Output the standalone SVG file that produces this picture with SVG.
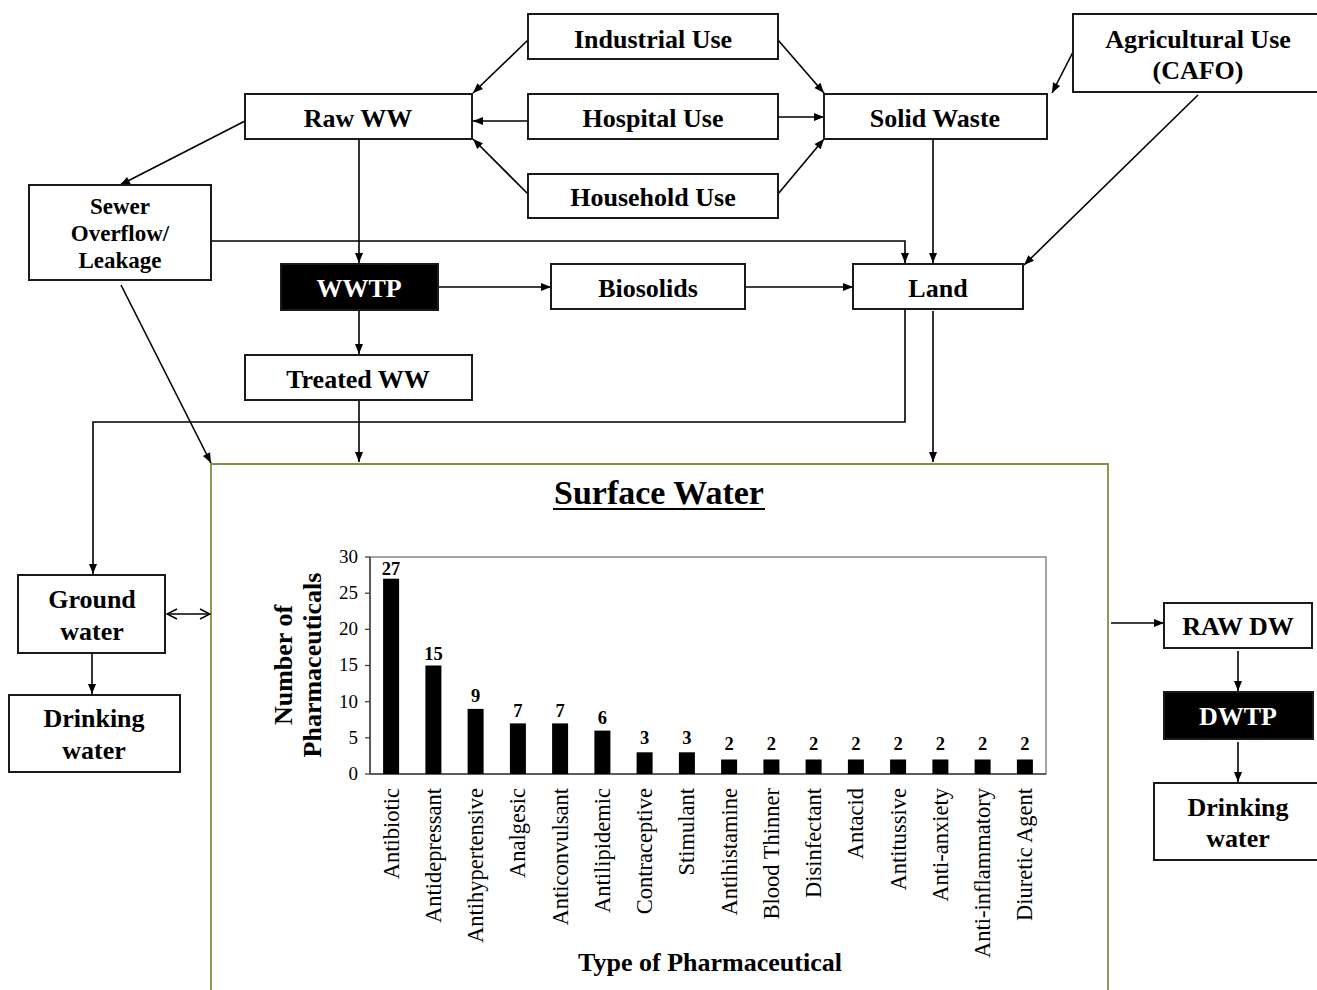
<svg xmlns="http://www.w3.org/2000/svg" width="1317" height="990" viewBox="0 0 1317 990">
<style>
.box{fill:#fff;stroke:#1a1a1a;stroke-width:2}
.dark{fill:#000;stroke:#1a1a1a;stroke-width:2}
.t{font-family:"Liberation Serif","Times New Roman",serif;font-weight:bold;font-size:26px;text-anchor:middle;fill:#000}
.tw{font-family:"Liberation Serif","Times New Roman",serif;font-weight:bold;font-size:26px;text-anchor:middle;fill:#fff}
.ts{font-family:"Liberation Serif","Times New Roman",serif;font-weight:bold;font-size:23px;text-anchor:middle;fill:#000}
.c{fill:none;stroke:#000;stroke-width:1.6}
.arr{marker-end:url(#ah)}
.tick{font-family:"Liberation Serif","Times New Roman",serif;font-size:19px;text-anchor:end;fill:#000}
.val{font-family:"Liberation Serif","Times New Roman",serif;font-weight:bold;font-size:18.5px;text-anchor:middle;fill:#000}
.xl{font-family:"Liberation Serif","Times New Roman",serif;font-size:22.5px;text-anchor:end;fill:#000}
.ttl{font-family:"Liberation Serif","Times New Roman",serif;font-weight:bold;font-size:26px;text-anchor:middle;fill:#000}
.bar{fill:#000}
</style>
<defs>
<marker id="ah" viewBox="0 0 10 10" refX="10" refY="5" markerWidth="11" markerHeight="10" orient="auto" markerUnits="userSpaceOnUse"><path d="M0,1 L10,5 L0,9 z" fill="#000"/></marker>
<marker id="oa" viewBox="0 0 12 12" refX="11" refY="6" markerWidth="12" markerHeight="12" orient="auto-start-reverse" markerUnits="userSpaceOnUse"><path d="M1,1 L11,6 L1,11" fill="none" stroke="#000" stroke-width="1.4"/></marker>
</defs>

<g id="surface-water">
<path d="M211,1000 L211,464 L1108,464 L1108,1000" fill="none" stroke="#7b9440" stroke-width="1.8"/>
<text x="659" y="504" font-family="Liberation Serif, serif" font-weight="bold" font-size="34" text-anchor="middle">Surface Water</text>
<line x1="553" y1="509" x2="765" y2="509" stroke="#000" stroke-width="2"/>
</g>

<g id="connectors">
<line class="c arr" x1="528" y1="40" x2="473" y2="93"/>
<line class="c arr" x1="528" y1="121" x2="473" y2="121"/>
<line class="c arr" x1="528" y1="194" x2="473" y2="139"/>
<line class="c arr" x1="778" y1="40" x2="824" y2="93"/>
<line class="c arr" x1="778" y1="117" x2="824" y2="117"/>
<line class="c arr" x1="778" y1="194" x2="824" y2="139"/>
<line class="c arr" x1="1073" y1="52" x2="1052" y2="93"/>
<line class="c arr" x1="1198" y1="95" x2="1024" y2="265"/>
<line class="c arr" x1="245" y1="121" x2="120" y2="185"/>
<line class="c arr" x1="359" y1="139" x2="359" y2="263"/>
<polyline class="c arr" points="211,241 905,241 905,263"/>
<line class="c arr" x1="933" y1="139" x2="933" y2="263"/>
<line class="c arr" x1="438" y1="287" x2="551" y2="287"/>
<line class="c arr" x1="745" y1="287" x2="853" y2="287"/>
<line class="c arr" x1="359" y1="310" x2="359" y2="354"/>
<line class="c arr" x1="359" y1="400" x2="359" y2="462"/>
<polyline class="c arr" points="905,309 905,422 93,422 93,574"/>
<line class="c arr" x1="933" y1="311" x2="933" y2="462"/>
<line class="c arr" x1="121" y1="285" x2="211" y2="463"/>
<line class="c" x1="167" y1="614" x2="210" y2="614" marker-start="url(#oa)" marker-end="url(#oa)"/>
<line class="c arr" x1="92" y1="653" x2="92" y2="694"/>
<line class="c arr" x1="1111" y1="623" x2="1164" y2="623"/>
<line class="c arr" x1="1238" y1="651" x2="1238" y2="691"/>
<line class="c arr" x1="1238" y1="742" x2="1238" y2="782"/>
</g>

<g id="industrial-use"><rect class="box" x="528" y="14" width="250" height="45"/><text class="t" x="653" y="48">Industrial  Use</text></g>
<g id="raw-ww"><rect class="box" x="245" y="94" width="227" height="45"/><text class="t" x="358" y="127">Raw WW</text></g>
<g id="hospital-use"><rect class="box" x="528" y="94" width="250" height="45"/><text class="t" x="653" y="127">Hospital Use</text></g>
<g id="household-use"><rect class="box" x="528" y="174" width="250" height="44"/><text class="t" x="653" y="206">Household Use</text></g>
<g id="solid-waste"><rect class="box" x="824" y="94" width="223" height="45"/><text class="t" x="935" y="127">Solid Waste</text></g>
<g id="agricultural-use"><rect class="box" x="1073" y="14" width="260" height="78"/><text class="t" x="1198" y="48">Agricultural Use</text><text class="t" x="1198" y="79">(CAFO)</text></g>
<g id="sewer-overflow"><rect class="box" x="29" y="185" width="182" height="95"/><text class="ts" x="120" y="214">Sewer</text><text class="ts" x="120" y="241">Overflow/</text><text class="ts" x="120" y="268">Leakage</text></g>
<g id="wwtp"><rect class="dark" x="281" y="264" width="157" height="46"/><text class="tw" x="359" y="297">WWTP</text></g>
<g id="biosolids"><rect class="box" x="551" y="264" width="194" height="45"/><text class="t" x="648" y="297">Biosolids</text></g>
<g id="land"><rect class="box" x="853" y="264" width="170" height="45"/><text class="t" x="938" y="297">Land</text></g>
<g id="treated-ww"><rect class="box" x="245" y="355" width="227" height="45"/><text class="t" x="358" y="388">Treated WW</text></g>
<g id="ground-water"><rect class="box" x="18" y="575" width="147" height="78"/><text class="t" x="92" y="608">Ground</text><text class="t" x="92" y="640">water</text></g>
<g id="drinking-water-left"><rect class="box" x="9" y="695" width="171" height="77"/><text class="t" x="94" y="727">Drinking</text><text class="t" x="94" y="759">water</text></g>
<g id="raw-dw"><rect class="box" x="1164" y="603" width="148" height="45"/><text class="t" x="1238" y="635">RAW DW</text></g>
<g id="dwtp"><rect class="dark" x="1164" y="692" width="149" height="47"/><text class="tw" x="1238" y="725">DWTP</text></g>
<g id="drinking-water-right"><rect class="box" x="1154" y="783" width="180" height="77"/><text class="t" x="1238" y="816">Drinking</text><text class="t" x="1238" y="847">water</text></g>

<g id="chart">
<rect x="370" y="557" width="676" height="217" fill="none" stroke="#888" stroke-width="1.5"/>
<line x1="370" y1="557" x2="370" y2="774" stroke="#444" stroke-width="1.5"/>
<line x1="370" y1="774" x2="1046" y2="774" stroke="#444" stroke-width="1.5"/>
<g stroke="#444" stroke-width="1.3">
<line x1="365" y1="557" x2="370" y2="557"/><line x1="365" y1="593.2" x2="370" y2="593.2"/><line x1="365" y1="629.3" x2="370" y2="629.3"/><line x1="365" y1="665.5" x2="370" y2="665.5"/><line x1="365" y1="701.7" x2="370" y2="701.7"/><line x1="365" y1="737.8" x2="370" y2="737.8"/><line x1="365" y1="774" x2="370" y2="774"/>
</g>
<text class="tick" x="358" y="563">30</text>
<text class="tick" x="358" y="599">25</text>
<text class="tick" x="358" y="635">20</text>
<text class="tick" x="358" y="671">15</text>
<text class="tick" x="358" y="708">10</text>
<text class="tick" x="358" y="744">5</text>
<text class="tick" x="358" y="780">0</text>

<rect class="bar" x="383.1" y="578.7" width="16" height="195.3"/>
<rect class="bar" x="425.4" y="665.5" width="16" height="108.5"/>
<rect class="bar" x="467.6" y="708.9" width="16" height="65.1"/>
<rect class="bar" x="509.9" y="723.4" width="16" height="50.6"/>
<rect class="bar" x="552.1" y="723.4" width="16" height="50.6"/>
<rect class="bar" x="594.4" y="730.6" width="16" height="43.4"/>
<rect class="bar" x="636.6" y="752.3" width="16" height="21.7"/>
<rect class="bar" x="678.9" y="752.3" width="16" height="21.7"/>
<rect class="bar" x="721.1" y="759.5" width="16" height="14.5"/>
<rect class="bar" x="763.4" y="759.5" width="16" height="14.5"/>
<rect class="bar" x="805.6" y="759.5" width="16" height="14.5"/>
<rect class="bar" x="847.9" y="759.5" width="16" height="14.5"/>
<rect class="bar" x="890.1" y="759.5" width="16" height="14.5"/>
<rect class="bar" x="932.4" y="759.5" width="16" height="14.5"/>
<rect class="bar" x="974.6" y="759.5" width="16" height="14.5"/>
<rect class="bar" x="1016.9" y="759.5" width="16" height="14.5"/>

<text class="val" x="391.1" y="575">27</text>
<text class="val" x="433.4" y="660">15</text>
<text class="val" x="475.6" y="702">9</text>
<text class="val" x="517.9" y="717">7</text>
<text class="val" x="560.1" y="717">7</text>
<text class="val" x="602.4" y="724">6</text>
<text class="val" x="644.6" y="744">3</text>
<text class="val" x="686.9" y="744">3</text>
<text class="val" x="729.1" y="750">2</text>
<text class="val" x="771.4" y="750">2</text>
<text class="val" x="813.6" y="750">2</text>
<text class="val" x="855.9" y="750">2</text>
<text class="val" x="898.1" y="750">2</text>
<text class="val" x="940.4" y="750">2</text>
<text class="val" x="982.6" y="750">2</text>
<text class="val" x="1024.9" y="750">2</text>

<text class="xl" transform="translate(398.6,788) rotate(-90)">Antibiotic</text>
<text class="xl" transform="translate(440.9,788) rotate(-90)">Antidepressant</text>
<text class="xl" transform="translate(483.1,788) rotate(-90)">Antihypertensive</text>
<text class="xl" transform="translate(525.4,788) rotate(-90)">Analgesic</text>
<text class="xl" transform="translate(567.6,788) rotate(-90)">Anticonvulsant</text>
<text class="xl" transform="translate(609.9,788) rotate(-90)">Antilipidemic</text>
<text class="xl" transform="translate(652.1,788) rotate(-90)">Contraceptive</text>
<text class="xl" transform="translate(694.4,788) rotate(-90)">Stimulant</text>
<text class="xl" transform="translate(736.6,788) rotate(-90)">Antihistamine</text>
<text class="xl" transform="translate(778.9,788) rotate(-90)">Blood Thinner</text>
<text class="xl" transform="translate(821.1,788) rotate(-90)">Disinfectant</text>
<text class="xl" transform="translate(863.4,788) rotate(-90)">Antacid</text>
<text class="xl" transform="translate(905.6,788) rotate(-90)">Antitussive</text>
<text class="xl" transform="translate(947.9,788) rotate(-90)">Anti-anxiety</text>
<text class="xl" transform="translate(990.1,788) rotate(-90)">Anti-inflammatory</text>
<text class="xl" transform="translate(1032.4,788) rotate(-90)">Diuretic Agent</text>

<text class="ttl" transform="translate(292,665) rotate(-90)">Number of</text>
<text class="ttl" transform="translate(321,665) rotate(-90)">Pharmaceuticals</text>
<text class="ttl" x="710" y="971">Type of Pharmaceutical</text>
</g>
</svg>
